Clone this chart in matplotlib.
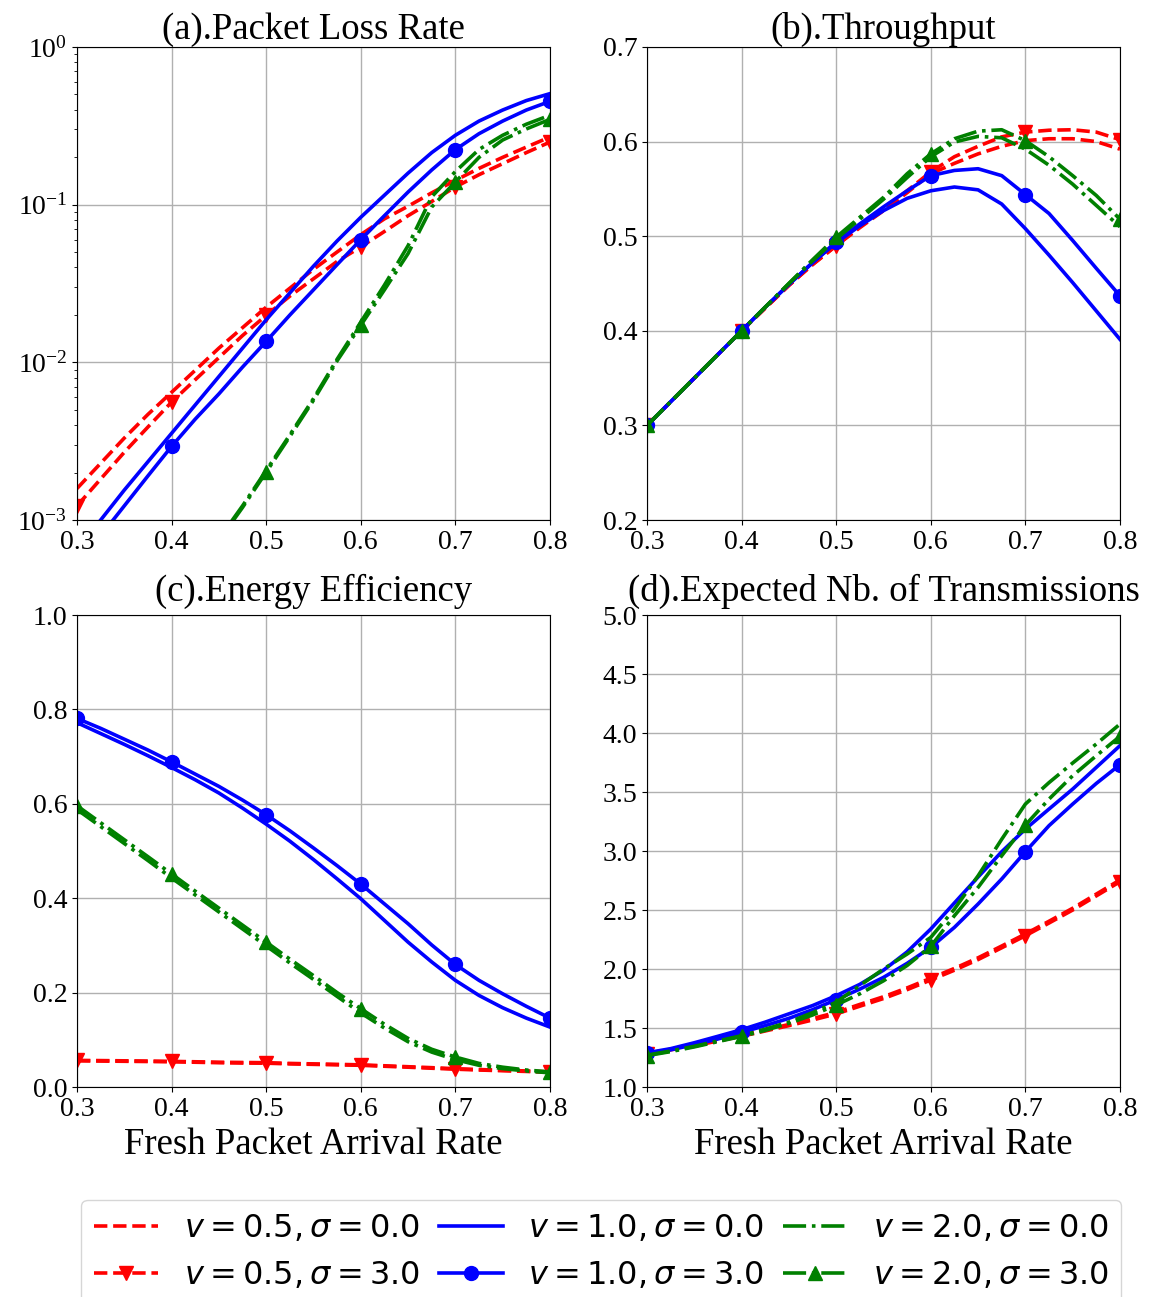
import numpy as np
import matplotlib
matplotlib.use("Agg")
import matplotlib.pyplot as plt

plt.rcParams['font.family'] = 'serif'
plt.rcParams['font.serif'] = ['Liberation Serif', 'DejaVu Serif']

# fresh packet arrival rate, 0.3 .. 0.8 step 0.025
x = [0.3, 0.325, 0.35, 0.375, 0.4, 0.425, 0.45, 0.475, 0.5, 0.525, 0.55,
     0.575, 0.6, 0.625, 0.65, 0.675, 0.7, 0.725, 0.75, 0.775, 0.8]

# (a) packet loss rate, given as log10 values
lg_loss_v05_s0 = [-2.80, -2.64, -2.48, -2.33, -2.19, -2.05, -1.91, -1.78, -1.65, -1.53, -1.41,
                  -1.30, -1.19, -1.09, -1.01, -0.925, -0.846, -0.77, -0.70, -0.635, -0.571]
lg_loss_v05_s3 = [-2.91, -2.74, -2.57, -2.41, -2.252, -2.11, -1.97, -1.83, -1.702, -1.58, -1.47,
                  -1.36, -1.268, -1.17, -1.07, -0.98, -0.888, -0.81, -0.74, -0.67, -0.603]
lg_loss_v10_s0 = [-3.18, -3.00, -2.81, -2.63, -2.45, -2.27, -2.09, -1.91, -1.73, -1.56, -1.39,
                  -1.23, -1.08, -0.94, -0.80, -0.67, -0.56, -0.47, -0.40, -0.34, -0.296]
lg_loss_v10_s3 = [-3.28, -3.10, -2.91, -2.72, -2.533, -2.36, -2.20, -2.03, -1.867, -1.70, -1.54,
                  -1.38, -1.222, -1.07, -0.92, -0.78, -0.651, -0.55, -0.47, -0.40, -0.345]
lg_loss_v20_s0 = [-4.39, -4.19, -3.99, -3.79, -3.57, -3.34, -3.12, -2.91, -2.686, -2.46, -2.23,
                  -1.98, -1.745, -1.51, -1.26, -0.95, -0.79, -0.65, -0.56, -0.49, -0.433]
lg_loss_v20_s3 = [-4.40, -4.20, -4.00, -3.80, -3.58, -3.35, -3.13, -2.92, -2.696, -2.47, -2.24,
                  -1.99, -1.765, -1.54, -1.31, -1.015, -0.856, -0.70, -0.59, -0.52, -0.459]

# (b) throughput
thr_v05_s0 = [0.3, 0.325, 0.35, 0.375, 0.4, 0.424, 0.448, 0.470, 0.490, 0.509, 0.527,
              0.546, 0.566, 0.577, 0.587, 0.595, 0.601, 0.603, 0.603, 0.600, 0.592]
thr_v05_s3 = [0.3, 0.325, 0.35, 0.375, 0.4, 0.424, 0.448, 0.470, 0.490, 0.510, 0.529,
              0.548, 0.568, 0.584, 0.595, 0.605, 0.610, 0.612, 0.6125, 0.610, 0.602]
thr_v10_s0 = [0.3, 0.325, 0.35, 0.375, 0.4, 0.425, 0.449, 0.472, 0.493, 0.511, 0.527,
              0.540, 0.548, 0.552, 0.549, 0.534, 0.508, 0.480, 0.451, 0.421, 0.391]
thr_v10_s3 = [0.3, 0.325, 0.35, 0.375, 0.4, 0.425, 0.449, 0.472, 0.494, 0.513, 0.531,
              0.548, 0.564, 0.5695, 0.5713, 0.564, 0.544, 0.524, 0.4955, 0.466, 0.437]
thr_v20_s0 = [0.3, 0.325, 0.35, 0.375, 0.4, 0.425, 0.450, 0.474, 0.497, 0.518, 0.539,
              0.562, 0.584, 0.5995, 0.6055, 0.604, 0.592, 0.575, 0.555, 0.5325, 0.510]
thr_v20_s3 = [0.3, 0.325, 0.35, 0.375, 0.4, 0.425, 0.450, 0.475, 0.499, 0.520, 0.541,
              0.566, 0.587, 0.603, 0.611, 0.6125, 0.601, 0.584, 0.564, 0.543, 0.518]

# (c) energy efficiency
ee_v05_s0 = [0.0555, 0.055, 0.0545, 0.054, 0.0535, 0.0525, 0.0515, 0.0508, 0.0505, 0.049, 0.048,
             0.047, 0.046, 0.044, 0.042, 0.0398, 0.0378, 0.036, 0.0345, 0.033, 0.031]
ee_v05_s3 = [0.0564, 0.056, 0.0555, 0.055, 0.0543, 0.0535, 0.0525, 0.052, 0.0515, 0.050, 0.049,
             0.048, 0.047, 0.045, 0.043, 0.041, 0.0388, 0.037, 0.0355, 0.034, 0.032]
ee_v10_s0 = [0.772, 0.749, 0.726, 0.702, 0.677, 0.651, 0.623, 0.591, 0.557, 0.521, 0.482,
             0.441, 0.399, 0.353, 0.307, 0.265, 0.226, 0.194, 0.168, 0.146, 0.127]
ee_v10_s3 = [0.781, 0.760, 0.737, 0.714, 0.689, 0.663, 0.637, 0.608, 0.577, 0.543, 0.5065,
             0.469, 0.430, 0.388, 0.346, 0.301, 0.2596, 0.226, 0.1975, 0.171, 0.146]
ee_v20_s0 = [0.588, 0.552, 0.516, 0.480, 0.443, 0.407, 0.371, 0.335, 0.299, 0.263, 0.228,
             0.192, 0.157, 0.125, 0.096, 0.074, 0.058, 0.046, 0.039, 0.034, 0.030]
ee_v20_s3 = [0.596, 0.560, 0.524, 0.488, 0.4515, 0.415, 0.379, 0.343, 0.307, 0.271, 0.236,
             0.200, 0.166, 0.133, 0.103, 0.080, 0.0635, 0.050, 0.042, 0.036, 0.032]

# (d) expected number of transmissions
tx_v05_s0 = [1.285, 1.32, 1.355, 1.395, 1.437, 1.483, 1.53, 1.58, 1.632, 1.70, 1.765,
             1.84, 1.922, 2.005, 2.095, 2.195, 2.297, 2.405, 2.515, 2.635, 2.755]
tx_v05_s3 = [1.28, 1.315, 1.35, 1.39, 1.43, 1.475, 1.52, 1.568, 1.619, 1.685, 1.75,
             1.825, 1.907, 1.99, 2.08, 2.18, 2.282, 2.39, 2.50, 2.62, 2.74]
tx_v10_s0 = [1.29, 1.325, 1.375, 1.43, 1.486, 1.55, 1.62, 1.69, 1.774, 1.87, 1.99,
             2.145, 2.339, 2.56, 2.78, 2.994, 3.186, 3.356, 3.525, 3.709, 3.893]
tx_v10_s3 = [1.285, 1.315, 1.359, 1.407, 1.463, 1.520, 1.582, 1.655, 1.740, 1.83, 1.929,
             2.048, 2.184, 2.353, 2.551, 2.763, 2.994, 3.215, 3.398, 3.573, 3.732]
tx_v20_s0 = [1.27, 1.305, 1.345, 1.39, 1.435, 1.49, 1.55, 1.63, 1.718, 1.86, 2.00,
             2.127, 2.268, 2.508, 2.79, 3.10, 3.398, 3.58, 3.746, 3.907, 4.076]
tx_v20_s3 = [1.266, 1.30, 1.34, 1.385, 1.429, 1.48, 1.54, 1.61, 1.695, 1.79, 1.90,
             2.03, 2.192, 2.452, 2.692, 2.96, 3.220, 3.44, 3.638, 3.808, 3.972]

labels = [r'$v = 0.5, \sigma = 0.0$', r'$v = 0.5, \sigma = 3.0$',
          r'$v = 1.0, \sigma = 0.0$', r'$v = 1.0, \sigma = 3.0$',
          r'$v = 2.0, \sigma = 0.0$', r'$v = 2.0, \sigma = 3.0$']
styles = [dict(color='red', ls='--'), dict(color='red', ls='--', marker='v'),
          dict(color='blue', ls='-'), dict(color='blue', ls='-', marker='o'),
          dict(color='green', ls='-.'), dict(color='green', ls='-.', marker='^')]

loss = [10 ** np.array(v) for v in (lg_loss_v05_s0, lg_loss_v05_s3, lg_loss_v10_s0,
                                     lg_loss_v10_s3, lg_loss_v20_s0, lg_loss_v20_s3)]
panels = [
    ("(a).Packet Loss Rate", loss),
    ("(b).Throughput", [thr_v05_s0, thr_v05_s3, thr_v10_s0, thr_v10_s3, thr_v20_s0, thr_v20_s3]),
    ("(c).Energy Efficiency", [ee_v05_s0, ee_v05_s3, ee_v10_s0, ee_v10_s3, ee_v20_s0, ee_v20_s3]),
    ("(d).Expected Nb. of Transmissions", [tx_v05_s0, tx_v05_s3, tx_v10_s0, tx_v10_s3, tx_v20_s0, tx_v20_s3]),
]

fig = plt.figure(figsize=(11.52, 12.97), dpi=100)
rects = [[0.0668, 0.599, 0.4106, 0.3648], [0.5616, 0.599, 0.4106, 0.3648],
         [0.0668, 0.1619, 0.4106, 0.3639], [0.5616, 0.1619, 0.4106, 0.3639]]

handles = []
for i, (title, series) in enumerate(panels):
    ax = fig.add_axes(rects[i])
    for s, st, lab in zip(series, styles, labels):
        ln, = ax.plot(x, s, lw=2.6, ms=10, markevery=4, label=lab, **st)
        if i == 0:
            handles.append(ln)
    ax.set_title(title, fontsize=26.5, pad=6 if i < 2 else 10)
    ax.set_xlim(0.3, 0.8)
    ax.set_xticks([0.3, 0.4, 0.5, 0.6, 0.7, 0.8])
    ax.grid(True, color='#b0b0b0', lw=1)
    ax.tick_params(labelsize=20)
    if i == 0:
        ax.set_yscale('log')
        ax.set_ylim(1e-3, 1)
    elif i == 1:
        ax.set_ylim(0.2, 0.7)
    elif i == 2:
        ax.set_ylim(0, 1.0)
        ax.set_yticks(np.arange(0, 1.01, 0.2))
    else:
        ax.set_ylim(1.0, 5.0)
        ax.set_yticks(np.arange(1.0, 5.01, 0.5))
    if i >= 2:
        ax.set_xlabel("Fresh Packet Arrival Rate", fontsize=26.5, labelpad=4)

fig.legend(handles, labels, loc='upper center', bbox_to_anchor=(0.522, 0.0748),
           borderaxespad=0, ncol=3, fontsize=23, handlelength=2.0, columnspacing=0.6)

fig.savefig("out.png", dpi=100)
